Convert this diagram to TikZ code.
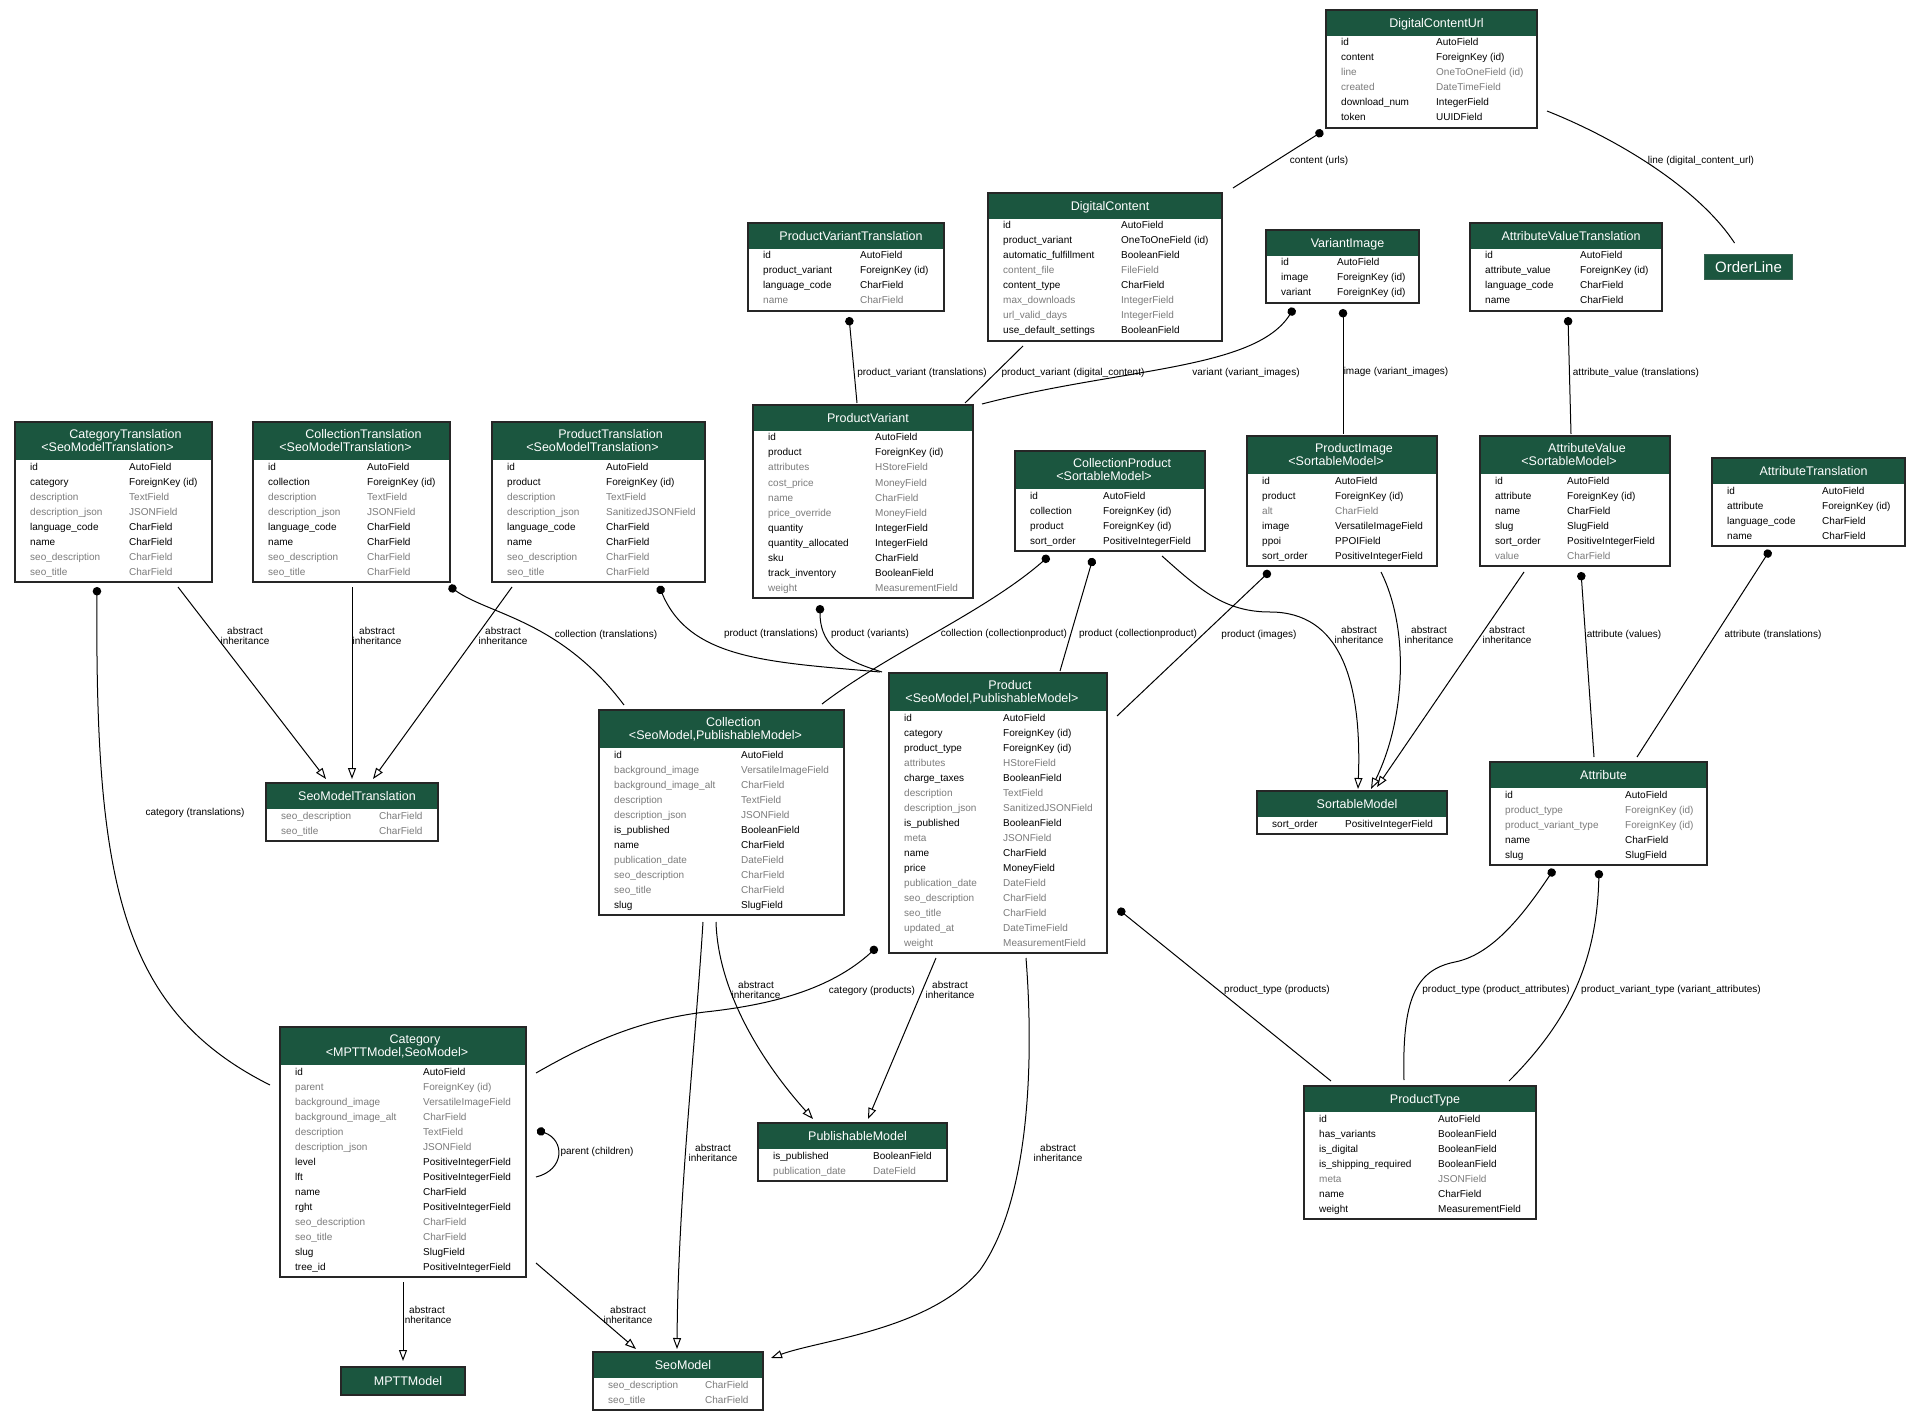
\documentclass[tikz,border=0pt]{standalone}
\usepackage{fontspec}
\setmainfont{Liberation Sans}
\usetikzlibrary{calc,arrows.meta}
\definecolor{hdr}{HTML}{1B563F}
\definecolor{gry}{HTML}{7B7B7B}
\definecolor{frm}{HTML}{262626}
\tikzset{
  tbl/.style={draw=frm, line width=1.3pt, fill=white, inner sep=0pt, outer sep=0pt},
  ttl/.style={text=white, font=\fontsize{12.5}{14}\selectfont, inner sep=0pt, anchor=base},
  rowtxt/.style={font=\fontsize{10}{12}\selectfont, inner sep=0pt, anchor=base west},
  elab/.style={font=\fontsize{10}{10}\selectfont, inner sep=0pt, align=center},
  fk/.style={line width=1pt, arrows={Circle[length=8.5pt,width=8.5pt]-}},
  plainedge/.style={line width=1pt},
  inh/.style={line width=1pt, arrows={-Triangle[open,length=11pt,width=8pt,fill=white]}},
}
% #1 id, #2 left, #3 top, #4 width, #5 rows, #6 title, #7 subtitle, #8 type offset, #9 rows list
\newcommand\ertable[9]{%
  \if\relax\detokenize{#7}\relax\def\hh{26}\else\def\hh{38}\fi
  \pgfmathsetmacro\bh{\hh+15*#5+2}%
  \node[tbl, anchor=north west, minimum width=#4pt, minimum height=\bh pt] (#1) at (#2,#3) {};
  \fill[hdr] ($(#1.north west)+(1.4,1.4)$) rectangle ($(#1.north east)+(-1.4,\hh)$);
  \if\relax\detokenize{#7}\relax
    \node[ttl] (#1-t) at ($(#1.north)+(5,17.5)$) {#6};
  \else
    \node[ttl] (#1-t) at ($(#1.north)+(12,16.5)$) {#6};
    \node[ttl] (#1-s) at ($(#1.north)+(-6,29)$) {#7};
  \fi
  \foreach \rn/\rt/\rc [count=\ri] in {#9} {
    \node[rowtxt, text=\rc] (#1-n\ri) at ($(#1.north west)+(15,\hh+15*\ri-5)$) {\rn};
    \node[rowtxt, text=\rc] (#1-y\ri) at ($(#1.north west)+(#8,\hh+15*\ri-5)$) {\rt};
  }
}
\begin{document}
\catcode`\_=12
\begin{tikzpicture}[x=1pt,y=-1pt]
\useasboundingbox (0,0) rectangle (1920,1420);
\fill[white] (0,0) rectangle (1920,1420);

\ertable{dcu}{1326}{10}{211}{6}{DigitalContentUrl}{}{110}{id/AutoField/black, content/ForeignKey (id)/black, line/OneToOneField (id)/gry, created/DateTimeField/gry, download_num/IntegerField/black, token/UUIDField/black}
\ertable{pvt}{748}{223}{196}{4}{ProductVariantTranslation}{}{112}{id/AutoField/black, product_variant/ForeignKey (id)/black, language_code/CharField/black, name/CharField/gry}
\ertable{dc}{988}{193}{234}{8}{DigitalContent}{}{133}{id/AutoField/black, product_variant/OneToOneField (id)/black, automatic_fulfillment/BooleanField/black, content_file/FileField/gry, content_type/CharField/black, max_downloads/IntegerField/gry, url_valid_days/IntegerField/gry, use_default_settings/BooleanField/black}
\ertable{vi}{1266}{230}{153}{3}{VariantImage}{}{71}{id/AutoField/black, image/ForeignKey (id)/black, variant/ForeignKey (id)/black}
\ertable{avt}{1470}{223}{192}{4}{AttributeValueTranslation}{}{110}{id/AutoField/black, attribute_value/ForeignKey (id)/black, language_code/CharField/black, name/CharField/black}
\ertable{ctr}{15}{422}{197}{8}{CategoryTranslation}{<SeoModelTranslation>}{114}{id/AutoField/black, category/ForeignKey (id)/black, description/TextField/gry, description_json/JSONField/gry, language_code/CharField/black, name/CharField/black, seo_description/CharField/gry, seo_title/CharField/gry}
\ertable{coltr}{253}{422}{197}{8}{CollectionTranslation}{<SeoModelTranslation>}{114}{id/AutoField/black, collection/ForeignKey (id)/black, description/TextField/gry, description_json/JSONField/gry, language_code/CharField/black, name/CharField/black, seo_description/CharField/gry, seo_title/CharField/gry}
\ertable{prtr}{492}{422}{213}{8}{ProductTranslation}{<SeoModelTranslation>}{114}{id/AutoField/black, product/ForeignKey (id)/black, description/TextField/gry, description_json/SanitizedJSONField/gry, language_code/CharField/black, name/CharField/black, seo_description/CharField/gry, seo_title/CharField/gry}
\ertable{pv}{753}{405}{220}{11}{ProductVariant}{}{122}{id/AutoField/black, product/ForeignKey (id)/black, attributes/HStoreField/gry, cost_price/MoneyField/gry, name/CharField/gry, price_override/MoneyField/gry, quantity/IntegerField/black, quantity_allocated/IntegerField/black, sku/CharField/black, track_inventory/BooleanField/black, weight/MeasurementField/gry}
\ertable{cp}{1015}{451}{190}{4}{CollectionProduct}{<SortableModel>}{88}{id/AutoField/black, collection/ForeignKey (id)/black, product/ForeignKey (id)/black, sort_order/PositiveIntegerField/black}
\ertable{pi}{1247}{436}{190}{6}{ProductImage}{<SortableModel>}{88}{id/AutoField/black, product/ForeignKey (id)/black, alt/CharField/gry, image/VersatileImageField/black, ppoi/PPOIField/black, sort_order/PositiveIntegerField/black}
\ertable{av}{1480}{436}{190}{6}{AttributeValue}{<SortableModel>}{87}{id/AutoField/black, attribute/ForeignKey (id)/black, name/CharField/black, slug/SlugField/black, sort_order/PositiveIntegerField/black, value/CharField/gry}
\ertable{atr}{1712}{458}{193}{4}{AttributeTranslation}{}{110}{id/AutoField/black, attribute/ForeignKey (id)/black, language_code/CharField/black, name/CharField/black}
\ertable{col}{599}{710}{245}{11}{Collection}{<SeoModel,PublishableModel>}{142}{id/AutoField/black, background_image/VersatileImageField/gry, background_image_alt/CharField/gry, description/TextField/gry, description_json/JSONField/gry, is_published/BooleanField/black, name/CharField/black, publication_date/DateField/gry, seo_description/CharField/gry, seo_title/CharField/gry, slug/SlugField/black}
\ertable{prod}{889}{673}{218}{16}{Product}{<SeoModel,PublishableModel>}{114}{id/AutoField/black, category/ForeignKey (id)/black, product_type/ForeignKey (id)/black, attributes/HStoreField/gry, charge_taxes/BooleanField/black, description/TextField/gry, description_json/SanitizedJSONField/gry, is_published/BooleanField/black, meta/JSONField/gry, name/CharField/black, price/MoneyField/black, publication_date/DateField/gry, seo_description/CharField/gry, seo_title/CharField/gry, updated_at/DateTimeField/gry, weight/MeasurementField/gry}
\ertable{smt}{266}{783}{172}{2}{SeoModelTranslation}{}{113}{seo_description/CharField/gry, seo_title/CharField/gry}
\ertable{sort}{1257}{791}{190}{1}{SortableModel}{}{88}{sort_order/PositiveIntegerField/black}
\ertable{attr}{1490}{762}{217}{5}{Attribute}{}{135}{id/AutoField/black, product_type/ForeignKey (id)/gry, product_variant_type/ForeignKey (id)/gry, name/CharField/black, slug/SlugField/black}
\ertable{cat}{280}{1027}{246}{14}{Category}{<MPTTModel,SeoModel>}{143}{id/AutoField/black, parent/ForeignKey (id)/gry, background_image/VersatileImageField/gry, background_image_alt/CharField/gry, description/TextField/gry, description_json/JSONField/gry, level/PositiveIntegerField/black, lft/PositiveIntegerField/black, name/CharField/black, rght/PositiveIntegerField/black, seo_description/CharField/gry, seo_title/CharField/gry, slug/SlugField/black, tree_id/PositiveIntegerField/black}
\ertable{seo}{593}{1352}{170}{2}{SeoModel}{}{112}{seo_description/CharField/gry, seo_title/CharField/gry}
\ertable{pub}{758}{1123}{189}{2}{PublishableModel}{}{115}{is_published/BooleanField/black, publication_date/DateField/gry}
\ertable{pt}{1304}{1086}{232}{7}{ProductType}{}{134}{id/AutoField/black, has_variants/BooleanField/black, is_digital/BooleanField/black, is_shipping_required/BooleanField/black, meta/JSONField/gry, name/CharField/black, weight/MeasurementField/black}

% OrderLine
\node[fill=hdr, draw=hdr!70!gray, line width=1pt, minimum width=88pt, minimum height=25pt, anchor=north west, inner sep=0pt, text=white, font=\fontsize{15}{18}\selectfont] (ol) at (1704,254) {OrderLine};
% MPTTModel
\node[tbl, anchor=north west, minimum width=124pt, minimum height=28pt] (mptt) at (341,1367) {};
\fill[hdr] ($(mptt.north west)+(1.4,1.4)$) rectangle ($(mptt.south east)+(-1.4,-1.4)$);
\node[ttl] (mptt-t) at ($(mptt.center)+(5,4.5)$) {MPTTModel};

% ---- edges ----
\draw[fk] ($(dcu.south west)+(-3,3)$) -- ($(dc.north east)+(11,-5)$);
\node[elab] (l1) at (1319,161) {content (urls)};

\draw[plainedge] ($(dcu.south east)+(10,-17)$) .. controls (1620,140) and (1700,190) .. ($(ol.north)+(-14,-11)$);
\node[elab] (l2) at (1701,161) {line (digital_content_url)};

\draw[fk] ($(pvt.south west)+(101,6)$) -- ($(pv.north west)+(104,-2)$);
\node[elab] (l3) at (922,373) {product_variant (translations)};

\draw[plainedge] ($(dc.south west)+(35,5)$) -- ($(pv.north east)+(-8,-2)$);
\node[elab] (l4) at (1073,373) {product_variant (digital_content)};

\draw[fk] ($(vi.south west)+(28,5)$) .. controls (1255,370) and (1120,368) .. ($(pv.north east)+(9,-1)$);
\node[elab] (l5) at (1246,373) {variant (variant_images)};

\draw[fk] ($(vi.south west)+(77,6)$) -- ($(pi.north west)+(96,-2)$);
\node[elab] (l6) at (1396,372) {image (variant_images)};

\draw[fk] ($(avt.south west)+(98,6)$) -- ($(av.north west)+(91,-2)$);
\node[elab] (l7) at (1636,373) {attribute_value (translations)};

\draw[fk] ($(ctr.south west)+(82,5)$) .. controls (95,880) and (120,1010) .. ($(cat.north west)+(-10,58)$);
\node[elab] (l8) at (195,813) {category (translations)};

\draw[inh] ($(ctr.south west)+(163,5)$) -- ($(smt.north west)+(60,-4)$);
\node[elab] (a1) at (245,636) {abstract\\inheritance};
\draw[inh] ($(coltr.south west)+(99,5)$) -- ($(smt.north west)+(86,-4)$);
\node[elab] (a2) at (377,636) {abstract\\inheritance};
\draw[inh] ($(prtr.south west)+(20,5)$) -- ($(smt.north west)+(107,-4)$);
\node[elab] (a3) at (503,636) {abstract\\inheritance};

\draw[fk] ($(coltr.south east)+(-1,4)$) .. controls (490,615) and (560,620) .. ($(col.north west)+(25,-5)$);
\node[elab] (l9) at (606,635) {collection (translations)};

\draw[fk] ($(prtr.south west)+(167,4)$) .. controls (690,660) and (770,662) .. ($(prod.north west)+(-9,-1)$);
\node[elab] (l10) at (771,634) {product (translations)};

\draw[fk] ($(pv.south west)+(67,7)$) .. controls (820,650) and (850,662) .. ($(prod.north west)+(-7,-1)$);
\node[elab] (l11) at (870,634) {product (variants)};

\draw[fk] ($(cp.south west)+(34,5)$) .. controls (985,612) and (890,652) .. ($(col.north east)+(-22,-6)$);
\node[elab] (l12) at (1004,634) {collection (collectionproduct)};

\draw[fk] ($(cp.south west)+(78,7)$) -- ($(prod.north west)+(171,-2)$);
\node[elab] (l13) at (1138,634) {product (collectionproduct)};

\draw[inh] ($(cp.south west)+(147,5)$) .. controls (1200,590) and (1225,612) .. (1270,612) .. controls (1340,612) and (1362,680) .. ($(sort.north west)+(101,-2)$);
\node[elab] (a4) at (1359,635) {abstract\\inheritance};

\draw[fk] ($(pi.south west)+(23,5)$) -- ($(prod.north east)+(10,43)$);
\node[elab] (l14) at (1259,635) {product (images)};

\draw[inh] ($(pi.south west)+(134,6)$) .. controls (1410,630) and (1405,720) .. ($(sort.north west)+(114,-2)$);
\node[elab] (a5) at (1429,635) {abstract\\inheritance};

\draw[inh] ($(av.south west)+(44,6)$) -- ($(sort.north west)+(120,-4)$);
\node[elab] (a6) at (1507,635) {abstract\\inheritance};

\draw[fk] ($(av.south west)+(101,6)$) -- ($(attr.north west)+(104,-5)$);
\node[elab] (l15) at (1624,635) {attribute (values)};

\draw[fk] ($(atr.south west)+(58,4)$) -- ($(attr.north west)+(147,-5)$);
\node[elab] (l16) at (1773,635) {attribute (translations)};

\draw[fk] ($(attr.south west)+(64,4)$) .. controls (1520,920) and (1490,955) .. (1455,962) .. controls (1415,970) and (1402,1000) .. ($(pt.north west)+(100,-6)$);
\node[elab] (l17) at (1496,990) {product_type (product_attributes)};

\draw[fk] ($(attr.south west)+(109,5)$) .. controls (1597,960) and (1570,1020) .. ($(pt.north west)+(205,-5)$);
\node[elab] (l18) at (1671,990) {product_variant_type (variant_attributes)};

\draw[fk] ($(prod.south east)+(11,-44)$) -- ($(pt.north west)+(27,-5)$);
\node[elab] (l19) at (1277,990) {product_type (products)};

\draw[fk] ($(prod.south west)+(-12,-6)$) .. controls (830,990) and (770,1005) .. (705,1012) .. controls (640,1020) and (590,1042) .. ($(cat.north east)+(10,46)$);
\node[elab] (l20) at (872,991) {category (products)};

\draw[fk] ($(cat.north east)+(11,103)$) .. controls (565,1140) and (565,1170) .. ($(cat.north east)+(10,150)$);
\node[elab] (l21) at (597,1152) {parent (children)};

\draw[inh] ($(cat.south west)+(123,5)$) -- ($(mptt.north west)+(62,-6)$);
\node[elab] (a7) at (427,1315) {abstract\\inheritance};

\draw[inh] ($(cat.south east)+(10,-14)$) -- ($(seo.north west)+(43,-3)$);
\node[elab] (a8) at (628,1315) {abstract\\inheritance};

\draw[inh] ($(col.south west)+(104,7)$) .. controls (695,1050) and (678,1200) .. ($(seo.north west)+(84,-3)$);
\node[elab] (a9) at (713,1153) {abstract\\inheritance};

\draw[inh] ($(col.south west)+(117,7)$) .. controls (718,990) and (760,1060) .. ($(pub.north west)+(55,-4)$);
\node[elab] (a10) at (756,990) {abstract\\inheritance};

\draw[inh] ($(prod.south west)+(47,5)$) -- ($(pub.north west)+(110,-4)$);
\node[elab] (a11) at (950,990) {abstract\\inheritance};

\draw[inh] ($(prod.south west)+(137,5)$) .. controls (1034,1060) and (1030,1200) .. (980,1270) .. controls (930,1330) and (820,1340) .. ($(seo.north east)+(8,6)$);
\node[elab] (a12) at (1058,1153) {abstract\\inheritance};
\end{tikzpicture}
\end{document}
